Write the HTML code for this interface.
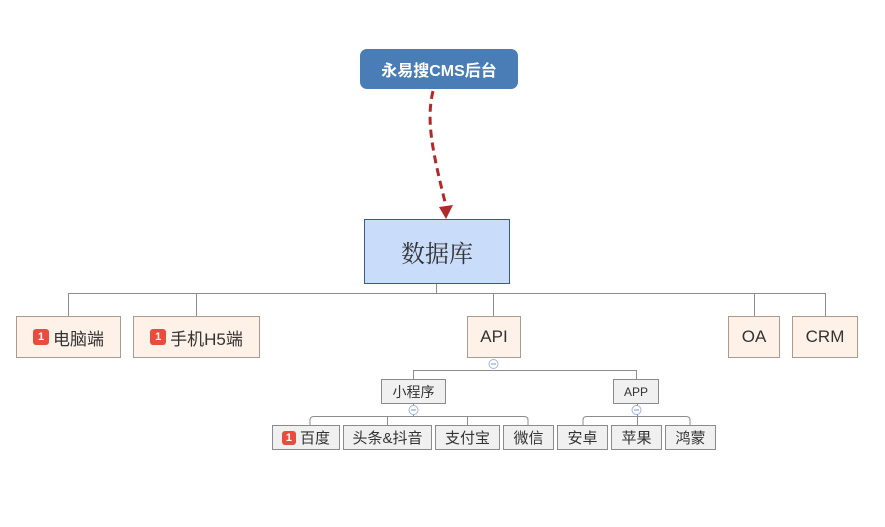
<!DOCTYPE html>
<html><head><meta charset="utf-8"><style>
body{margin:0;width:885px;height:527px;background:#fff;position:relative;overflow:hidden;font-family:"Liberation Sans","Noto Sans CJK SC",sans-serif}
.n{position:absolute;box-sizing:border-box;display:flex;align-items:center;justify-content:center;color:#333;white-space:nowrap}
.l1{background:#fdf1e8;border:1px solid #a89c92;font-size:17px;top:316px;height:42px}
.l2{background:#f0f0f0;border:1px solid #8a8a8a;font-size:14px;top:379px;height:25px}
.l3{background:#f0f0f0;border:1px solid #8a8a8a;font-size:15px;top:425px;height:25px}
.b{display:inline-block;background:#e84c3d;color:#fff;font-size:11px;font-weight:bold;width:16px;height:16px;line-height:16px;text-align:center;border-radius:3px;margin-right:4px}
</style></head><body>
<svg width="885" height="527" style="position:absolute;left:0;top:0">
<g fill="none" stroke="#8c8c8c" stroke-width="1">
<path d="M436.5 283V293.5M68.5 316V293.5H825.5V316M196.5 293.5V316M493.5 293.5V316M754.5 293.5V316"/>
<path d="M413.5 379V370.5H636.5V379"/>
<path d="M310 425V420Q310 416.5 314 416.5H524Q528 416.5 528 420V425M387.5 416.5V425M467.5 416.5V425M413.5 403V416.5"/>
<path d="M583 425V420Q583 416.5 587 416.5H686Q690 416.5 690 420V425M637.5 403V425"/>
</g>
<g fill="#fff" stroke="#9fb4d8"><circle cx="493.5" cy="364" r="4.5"/><circle cx="413.5" cy="410" r="4.5"/><circle cx="636.5" cy="410" r="4.5"/></g>
<g stroke="#7d97c8"><path d="M491 364H496M411 410H416M634 410H639"/></g>
<path d="M433 91C426 120 432 150 446 206" fill="none" stroke="#b02a2a" stroke-width="3" stroke-dasharray="8,5"/>
<path d="M439 207L453 205L446 219Z" fill="#b02a2a"/>
</svg>
<div class="n" style="left:360px;top:49px;width:158px;height:40px;background:#4a7cb6;border-radius:7px;color:#fff;font-size:16px;font-weight:bold">永易搜CMS后台</div>
<div class="n" style="left:364px;top:219px;width:146px;height:65px;background:#c9dcfa;border:1px solid #3d5a86;font-size:24px;font-family:'Noto Serif CJK SC',serif;color:#333">数据库</div>
<div class="n l1" style="left:16px;width:105px"><span class="b">1</span>电脑端</div>
<div class="n l1" style="left:133px;width:127px"><span class="b">1</span>手机H5端</div>
<div class="n l1" style="left:467px;width:54px">API</div>
<div class="n l1" style="left:728px;width:52px">OA</div>
<div class="n l1" style="left:792px;width:66px">CRM</div>
<div class="n l2" style="left:381px;width:65px">小程序</div>
<div class="n l2" style="left:613px;width:46px;font-size:12px">APP</div>
<div class="n l3" style="left:272px;width:68px"><span class="b" style="width:14px;height:14px;line-height:14px">1</span>百度</div>
<div class="n l3" style="left:343px;width:89px">头条&amp;抖音</div>
<div class="n l3" style="left:435px;width:65px">支付宝</div>
<div class="n l3" style="left:503px;width:51px">微信</div>
<div class="n l3" style="left:557px;width:51px">安卓</div>
<div class="n l3" style="left:611px;width:51px">苹果</div>
<div class="n l3" style="left:665px;width:51px">鸿蒙</div>
</body></html>
